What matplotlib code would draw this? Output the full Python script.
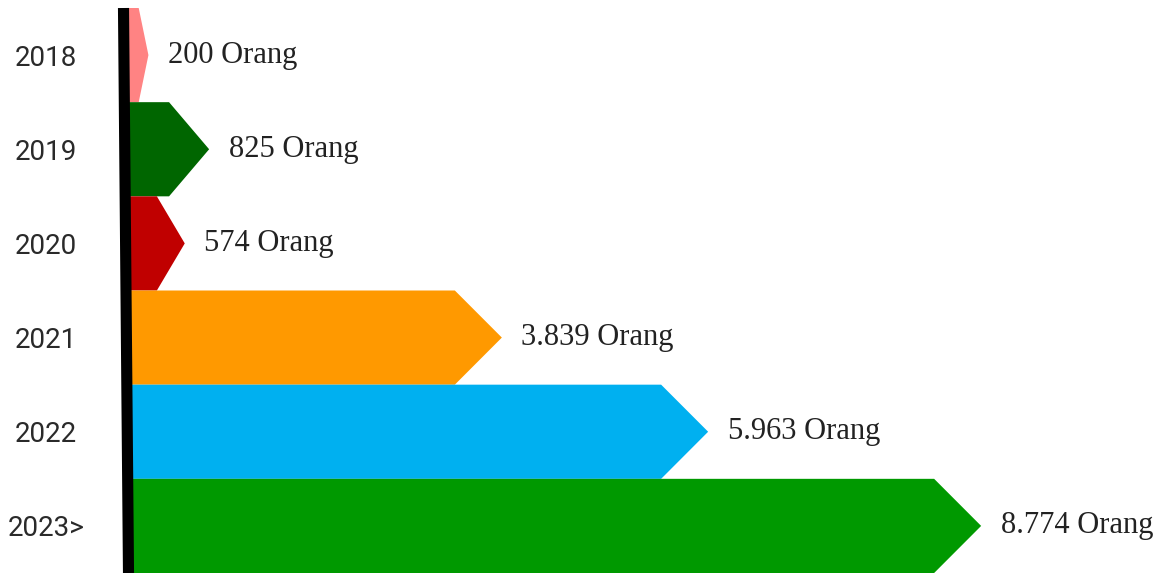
import matplotlib
matplotlib.use("Agg")
import matplotlib.pyplot as plt
from matplotlib.patches import Polygon
from matplotlib.lines import Line2D

# dados
tahun = ["2018", "2019", "2020", "2021", "2022", "2023>"]
jumlah = [200, 825, 574, 3839, 5963, 8774]
label_jumlah = ["200 Orang", "825 Orang", "574 Orang", "3.839 Orang", "5.963 Orang", "8.774 Orang"]
warna = ["#FF8383", "#006600", "#C00000", "#FF9900", "#00B0F0", "#009900"]

W, H = 1175, 573
fig = plt.figure(figsize=(W / 100, H / 100), dpi=100)
ax = fig.add_axes([129 / W, 0, 1046 / W, 565 / H])

XMAX = 10770
ax.set_xlim(0, XMAX)
ax.set_ylim(len(tahun) - 0.5, -0.5)

# panjang ujung panah (setengah tinggi baris, 45 derajat)
ujung_maks = 47 / 852 * 8774

for i, (v, c) in enumerate(zip(jumlah, warna)):
    tip = min(ujung_maks, 0.5 * v)
    pts = [(0, i - 0.5), (v - tip, i - 0.5), (v, i), (v - tip, i + 0.5), (0, i + 0.5)]
    ax.add_patch(Polygon(pts, closed=True, facecolor=c, edgecolor="none"))
    ax.annotate(label_jumlah[i], (v, i), xytext=(14, 0), textcoords="offset points",
                va="center", ha="left", fontsize=22, family="Liberation Serif",
                color="#222222")

ax.set_yticks(range(len(tahun)))
ax.set_yticklabels(tahun, fontsize=20, family="Roboto", color="#2a2a2a", ha="center")
ax.tick_params(axis="y", length=0, pad=60)
ax.set_xticks([])
for s in ax.spines.values():
    s.set_visible(False)

# garis hitam miring di kiri
fig.add_artist(Line2D([123.5 / W, 128.5 / W], [1 - 8 / H, 0], transform=fig.transFigure,
                      color="black", linewidth=8, solid_capstyle="butt"))

fig.savefig("out.png", dpi=100, facecolor="white")
